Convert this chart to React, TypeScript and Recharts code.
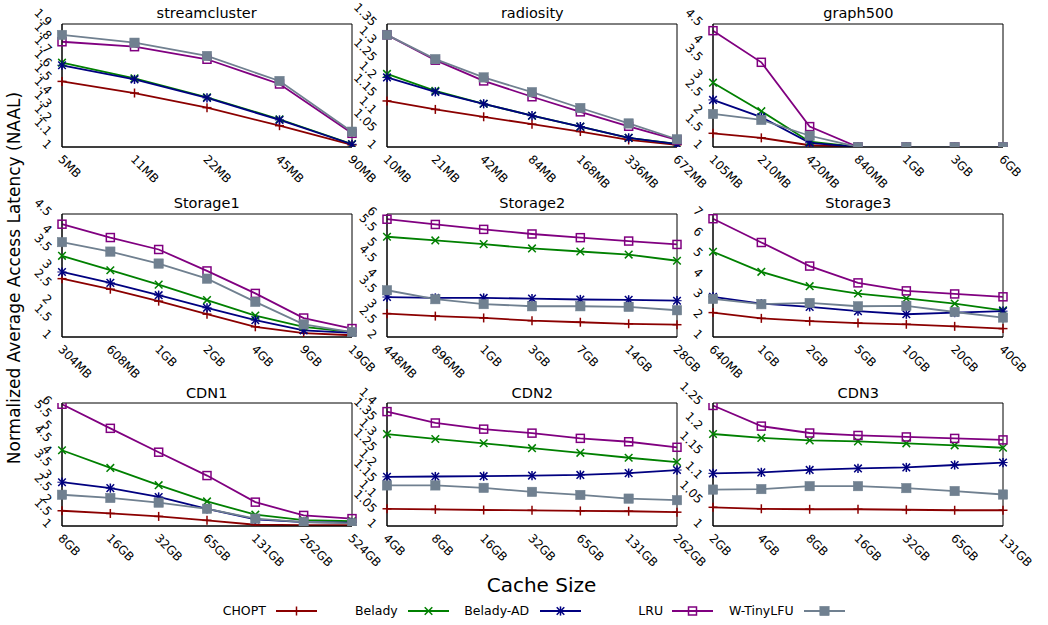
import React from 'react';
import { LineChart, Line, XAxis, YAxis, ReferenceArea } from 'recharts';

// ---------- data ----------
const streamclusterSizes = ['5MB', '11MB', '22MB', '45MB', '90MB'];
const streamclusterCHOPT = [1.48, 1.395, 1.288, 1.156, 1.015];
const streamclusterBelady = [1.617, 1.503, 1.364, 1.203, 1.022];
const streamclusterBeladyAD = [1.598, 1.495, 1.359, 1.198, 1.02];
const streamclusterLRU = [1.77, 1.734, 1.642, 1.461, 1.1];
const streamclusterWTinyLFU = [1.82, 1.763, 1.666, 1.483, 1.112];
const streamclusterTicks = [1, 1.1, 1.2, 1.3, 1.4, 1.5, 1.6, 1.7, 1.8, 1.9];

const radiositySizes = ['10MB', '21MB', '42MB', '84MB', '168MB', '336MB', '672MB'];
const radiosityCHOPT = [1.131, 1.107, 1.086, 1.065, 1.044, 1.02, 1.006];
const radiosityBelady = [1.208, 1.16, 1.123, 1.089, 1.058, 1.026, 1.009];
const radiosityBeladyAD = [1.198, 1.157, 1.123, 1.089, 1.058, 1.026, 1.008];
const radiosityLRU = [1.319, 1.247, 1.188, 1.143, 1.1, 1.059, 1.02];
const radiosityWTinyLFU = [1.319, 1.25, 1.198, 1.156, 1.111, 1.067, 1.022];
const radiosityTicks = [1, 1.05, 1.1, 1.15, 1.2, 1.25, 1.3, 1.35];

const graph500Sizes = ['105MB', '210MB', '420MB', '840MB', '1GB', '3GB', '6GB'];
const graph500CHOPT = [1.39, 1.26, 1.05, 1.0, 1.0, 1.0, 1.0];
const graph500Belady = [2.83, 2.02, 1.15, 1.0, 1.0, 1.0, 1.0];
const graph500BeladyAD = [2.34, 1.85, 1.12, 1.0, 1.0, 1.0, 1.0];
const graph500LRU = [4.31, 3.41, 1.58, 1.0, 1.0, 1.0, 1.0];
const graph500WTinyLFU = [1.94, 1.77, 1.32, 1.0, 1.0, 1.0, 1.0];
const graph500Ticks = [1, 1.5, 2, 2.5, 3, 3.5, 4, 4.5];

const storage1Sizes = ['304MB', '608MB', '1GB', '2GB', '4GB', '9GB', '19GB'];
const storage1CHOPT = [2.66, 2.36, 2.02, 1.65, 1.29, 1.11, 1.05];
const storage1Belady = [3.31, 2.9, 2.49, 2.05, 1.61, 1.29, 1.14];
const storage1BeladyAD = [2.85, 2.54, 2.19, 1.83, 1.48, 1.19, 1.12];
const storage1LRU = [4.21, 3.83, 3.49, 2.88, 2.24, 1.54, 1.24];
const storage1WTinyLFU = [3.7, 3.43, 3.09, 2.66, 2.0, 1.36, 1.14];
const storage1Ticks = [1, 1.5, 2, 2.5, 3, 3.5, 4, 4.5];

const storage2Sizes = ['448MB', '896MB', '1GB', '3GB', '7GB', '14GB', '28GB'];
const storage2CHOPT = [2.76, 2.68, 2.62, 2.53, 2.48, 2.43, 2.4];
const storage2Belady = [5.26, 5.14, 5.02, 4.88, 4.78, 4.68, 4.48];
const storage2BeladyAD = [3.3, 3.27, 3.27, 3.25, 3.22, 3.21, 3.18];
const storage2LRU = [5.83, 5.66, 5.5, 5.35, 5.23, 5.12, 5.01];
const storage2WTinyLFU = [3.52, 3.23, 3.07, 3.0, 3.0, 2.98, 2.87];
const storage2Ticks = [2, 2.5, 3, 3.5, 4, 4.5, 5, 5.5, 6];

const storage3Sizes = ['640MB', '1GB', '2GB', '5GB', '10GB', '20GB', '40GB'];
const storage3CHOPT = [2.19, 1.91, 1.77, 1.68, 1.62, 1.52, 1.41];
const storage3Belady = [5.16, 4.18, 3.48, 3.12, 2.88, 2.63, 2.3];
const storage3BeladyAD = [2.96, 2.63, 2.47, 2.26, 2.11, 2.19, 2.26];
const storage3LRU = [6.77, 5.61, 4.46, 3.64, 3.25, 3.1, 2.96];
const storage3WTinyLFU = [2.86, 2.6, 2.66, 2.5, 2.52, 2.22, 1.95];
const storage3Ticks = [1, 2, 3, 4, 5, 6, 7];

const cdn1Sizes = ['8GB', '16GB', '32GB', '65GB', '131GB', '262GB', '524GB'];
const cdn1CHOPT = [1.62, 1.51, 1.39, 1.23, 1.05, 1.03, 1.03];
const cdn1Belady = [4.08, 3.36, 2.66, 2.0, 1.46, 1.24, 1.2];
const cdn1BeladyAD = [2.78, 2.54, 2.18, 1.7, 1.27, 1.16, 1.14];
const cdn1LRU = [5.95, 4.97, 4.0, 3.05, 1.97, 1.43, 1.3];
const cdn1WTinyLFU = [2.27, 2.14, 1.95, 1.7, 1.3, 1.16, 1.11];
const cdn1Ticks = [1, 1.5, 2, 2.5, 3, 3.5, 4, 4.5, 5, 5.5, 6];

const cdn2Sizes = ['4GB', '8GB', '16GB', '32GB', '65GB', '131GB', '262GB'];
const cdn2CHOPT = [1.056, 1.054, 1.052, 1.051, 1.049, 1.048, 1.045];
const cdn2Belady = [1.299, 1.283, 1.269, 1.253, 1.238, 1.222, 1.208];
const cdn2BeladyAD = [1.16, 1.161, 1.162, 1.164, 1.166, 1.172, 1.182];
const cdn2LRU = [1.372, 1.335, 1.315, 1.302, 1.285, 1.274, 1.256];
const cdn2WTinyLFU = [1.132, 1.132, 1.124, 1.111, 1.101, 1.089, 1.084];
const cdn2Ticks = [1, 1.05, 1.1, 1.15, 1.2, 1.25, 1.3, 1.35, 1.4];

const cdn3Sizes = ['2GB', '4GB', '8GB', '16GB', '32GB', '65GB', '131GB'];
const cdn3CHOPT = [1.038, 1.035, 1.034, 1.034, 1.033, 1.032, 1.032];
const cdn3Belady = [1.187, 1.179, 1.174, 1.172, 1.168, 1.164, 1.159];
const cdn3BeladyAD = [1.107, 1.109, 1.114, 1.117, 1.119, 1.124, 1.129];
const cdn3LRU = [1.245, 1.203, 1.189, 1.184, 1.181, 1.178, 1.175];
const cdn3WTinyLFU = [1.074, 1.075, 1.081, 1.081, 1.077, 1.071, 1.064];
const cdn3Ticks = [1, 1.05, 1.1, 1.15, 1.2, 1.25];

const seriesNames = ['CHOPT', 'Belady', 'Belady-AD', 'LRU', 'W-TinyLFU'];

// ---------- styles ----------
const COLORS: Record<string, string> = {
  CHOPT: '#8b0000',
  Belady: '#008000',
  'Belady-AD': '#000080',
  LRU: '#800080',
  'W-TinyLFU': '#708090',
};
const FONT = '"DejaVu Sans", sans-serif';
const PLOT_W = 290;
const PLOT_H = 123;
const Y_W = 60;
const TOP_M = 30;
const R_M = 45;
const X_H = 50;
const COL_LEFT = [61.7, 387.3, 713.3];
const ROW_TOP = [24, 214, 403.3];

function Marker({ kind, cx, cy }: { kind: string; cx: number; cy: number }) {
  const c = COLORS[kind];
  if (cx == null || cy == null || isNaN(cx) || isNaN(cy)) return null;
  const sw = 1.5;
  if (kind === 'CHOPT') {
    const r = 4.5;
    return (
      <g>
        <line x1={cx - r} y1={cy} x2={cx + r} y2={cy} stroke={c} strokeWidth={sw} />
        <line x1={cx} y1={cy - r} x2={cx} y2={cy + r} stroke={c} strokeWidth={sw} />
      </g>
    );
  }
  if (kind === 'Belady') {
    const r = 3.8;
    return (
      <g>
        <line x1={cx - r} y1={cy - r} x2={cx + r} y2={cy + r} stroke={c} strokeWidth={sw} />
        <line x1={cx - r} y1={cy + r} x2={cx + r} y2={cy - r} stroke={c} strokeWidth={sw} />
      </g>
    );
  }
  if (kind === 'Belady-AD') {
    const r = 3.8;
    return (
      <g>
        <line x1={cx - r} y1={cy - r} x2={cx + r} y2={cy + r} stroke={c} strokeWidth={sw} />
        <line x1={cx - r} y1={cy + r} x2={cx + r} y2={cy - r} stroke={c} strokeWidth={sw} />
        <line x1={cx} y1={cy - r - 0.8} x2={cx} y2={cy + r + 0.8} stroke={c} strokeWidth={sw} />
        <line x1={cx - r - 0.8} y1={cy} x2={cx + r + 0.8} y2={cy} stroke={c} strokeWidth={1} />
      </g>
    );
  }
  if (kind === 'LRU') {
    const r = 4;
    return <rect x={cx - r} y={cy - r} width={2 * r} height={2 * r} fill="none" stroke={c} strokeWidth={sw} />;
  }
  const r = 4.7;
  return <rect x={cx - r} y={cy - r} width={2 * r} height={2 * r} fill={c} stroke={c} strokeWidth={0.5} />;
}

const XTick = (p: any) => {
  const tx = p.x - 4.5;
  const ty = p.y + 13;
  return (
    <text x={tx} y={ty} transform={`rotate(45 ${tx} ${ty})`} fontSize={12} fontFamily={FONT} fill="#000" textAnchor="start">
      {p.payload.value}
    </text>
  );
};

const YTick = (p: any) => {
  const tx = p.x - 15;
  const ty = p.y + 3;
  return (
    <text x={tx} y={ty} transform={`rotate(45 ${tx} ${ty})`} fontSize={12} fontFamily={FONT} fill="#000" textAnchor="end">
      {String(p.payload.value)}
    </text>
  );
};

type PanelProps = {
  title: string;
  sizes: string[];
  values: number[][];
  ticks: number[];
  col: number;
  row: number;
};

function Panel({ title, sizes, values, ticks, col, row }: PanelProps) {
  const data = sizes.map((s, i) => {
    const d: Record<string, any> = { size: s };
    seriesNames.forEach((n, k) => {
      d[n] = values[k][i];
    });
    return d;
  });
  const plotLeft = COL_LEFT[col];
  const plotTop = ROW_TOP[row];
  const lo = ticks[0];
  const hi = ticks[ticks.length - 1];
  return (
    <>
      <div
        style={{
          position: 'absolute',
          left: plotLeft,
          top: plotTop - 17.8,
          width: PLOT_W,
          textAlign: 'center',
          fontSize: 14.5,
          lineHeight: '14px',
          fontFamily: FONT,
          color: '#000',
          whiteSpace: 'nowrap',
        }}
      >
        {title}
      </div>
      <div style={{ position: 'absolute', left: plotLeft - Y_W, top: plotTop - TOP_M }}>
        <LineChart
          width={Y_W + PLOT_W + R_M}
          height={TOP_M + PLOT_H + X_H}
          data={data}
          margin={{ top: TOP_M, right: R_M, bottom: 0, left: 0 }}
        >
          <XAxis
            dataKey="size"
            height={X_H}
            interval={0}
            tickSize={0}
            tickMargin={0}
            tickLine={false}
            axisLine={{ stroke: '#000', strokeWidth: 1 }}
            tick={<XTick />}
            padding={{ left: 0, right: 0 }}
          />
          <YAxis
            type="number"
            domain={[lo, hi]}
            ticks={ticks}
            interval={0}
            width={Y_W}
            tickSize={0}
            tickMargin={0}
            tickLine={false}
            axisLine={{ stroke: '#000', strokeWidth: 1 }}
            tick={<YTick />}
            allowDataOverflow
          />
          <ReferenceArea
            x1={sizes[0]}
            x2={sizes[sizes.length - 1]}
            y1={lo}
            y2={hi}
            fill="none"
            fillOpacity={0}
            stroke="#000"
            strokeWidth={1}
            ifOverflow="visible"
          />
          {seriesNames.map((n) => (
            <Line
              key={n}
              dataKey={n}
              stroke={COLORS[n]}
              strokeWidth={1.8}
              isAnimationActive={false}
              dot={(dp: any) => <Marker key={`${n}-${dp.index}`} kind={n} cx={dp.cx} cy={dp.cy} />}
              activeDot={false}
            />
          ))}
        </LineChart>
      </div>
    </>
  );
}

const LEGEND_POS = [
  { text: 222.7, line: 275.7 },
  { text: 355, line: 407.7 },
  { text: 464.3, line: 540 },
  { text: 638.3, line: 672.3 },
  { text: 729, line: 804.3 },
];

function LegendBlock() {
  return (
    <>
      {seriesNames.map((n, i) => (
        <React.Fragment key={n}>
          <div
            style={{
              position: 'absolute',
              left: LEGEND_POS[i].text,
              top: 604,
              fontSize: 12.5,
              lineHeight: '14px',
              fontFamily: FONT,
              color: '#000',
              whiteSpace: 'nowrap',
            }}
          >
            {n}
          </div>
          <svg
            style={{ position: 'absolute', left: LEGEND_POS[i].line, top: 604 }}
            width={41}
            height={14}
          >
            <line x1={0} y1={7} x2={41} y2={7} stroke={COLORS[n]} strokeWidth={1.8} />
            <Marker kind={n} cx={20.5} cy={7} />
          </svg>
        </React.Fragment>
      ))}
    </>
  );
}

export default function App() {
  return (
    <div
      style={{
        position: 'absolute',
        left: 0,
        top: 0,
        width: 1048,
        height: 625,
        background: '#fff',
        fontFamily: FONT,
        overflow: 'hidden',
      }}
    >
      <Panel title="streamcluster" sizes={streamclusterSizes} ticks={streamclusterTicks} col={0} row={0}
        values={[streamclusterCHOPT, streamclusterBelady, streamclusterBeladyAD, streamclusterLRU, streamclusterWTinyLFU]} />
      <Panel title="radiosity" sizes={radiositySizes} ticks={radiosityTicks} col={1} row={0}
        values={[radiosityCHOPT, radiosityBelady, radiosityBeladyAD, radiosityLRU, radiosityWTinyLFU]} />
      <Panel title="graph500" sizes={graph500Sizes} ticks={graph500Ticks} col={2} row={0}
        values={[graph500CHOPT, graph500Belady, graph500BeladyAD, graph500LRU, graph500WTinyLFU]} />
      <Panel title="Storage1" sizes={storage1Sizes} ticks={storage1Ticks} col={0} row={1}
        values={[storage1CHOPT, storage1Belady, storage1BeladyAD, storage1LRU, storage1WTinyLFU]} />
      <Panel title="Storage2" sizes={storage2Sizes} ticks={storage2Ticks} col={1} row={1}
        values={[storage2CHOPT, storage2Belady, storage2BeladyAD, storage2LRU, storage2WTinyLFU]} />
      <Panel title="Storage3" sizes={storage3Sizes} ticks={storage3Ticks} col={2} row={1}
        values={[storage3CHOPT, storage3Belady, storage3BeladyAD, storage3LRU, storage3WTinyLFU]} />
      <Panel title="CDN1" sizes={cdn1Sizes} ticks={cdn1Ticks} col={0} row={2}
        values={[cdn1CHOPT, cdn1Belady, cdn1BeladyAD, cdn1LRU, cdn1WTinyLFU]} />
      <Panel title="CDN2" sizes={cdn2Sizes} ticks={cdn2Ticks} col={1} row={2}
        values={[cdn2CHOPT, cdn2Belady, cdn2BeladyAD, cdn2LRU, cdn2WTinyLFU]} />
      <Panel title="CDN3" sizes={cdn3Sizes} ticks={cdn3Ticks} col={2} row={2}
        values={[cdn3CHOPT, cdn3Belady, cdn3BeladyAD, cdn3LRU, cdn3WTinyLFU]} />

      <div
        style={{
          position: 'absolute',
          left: 14,
          top: 278,
          transform: 'translate(-50%, -50%) rotate(-90deg)',
          fontSize: 17,
          lineHeight: '17px',
          fontFamily: FONT,
          color: '#000',
          whiteSpace: 'nowrap',
        }}
      >
        Normalized Average Access Latency (NAAL)
      </div>
      <div
        style={{
          position: 'absolute',
          left: 541.5,
          top: 585,
          transform: 'translate(-50%, -50%)',
          fontSize: 20,
          lineHeight: '20px',
          fontFamily: FONT,
          color: '#000',
          whiteSpace: 'nowrap',
        }}
      >
        Cache Size
      </div>
      <LegendBlock />
    </div>
  );
}
